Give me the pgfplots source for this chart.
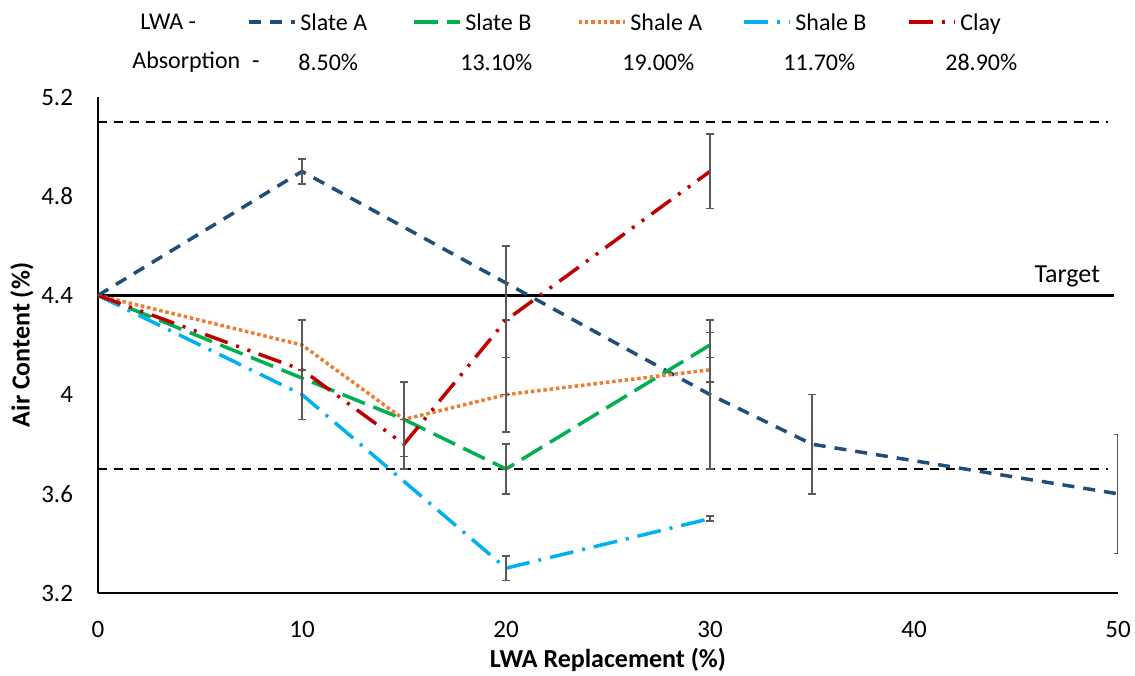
\documentclass[border=0pt]{standalone}
\usepackage{fontspec}
\setmainfont{Carlito}
\usepackage{pgfplots}
\pgfplotsset{compat=1.18}
\definecolor{slateA}{HTML}{1F4E79}
\definecolor{slateB}{HTML}{00B050}
\definecolor{shaleA}{HTML}{ED7D31}
\definecolor{shaleB}{HTML}{00B0F0}
\definecolor{clay}{HTML}{C00000}
\definecolor{errgray}{HTML}{595959}
\pgfplotsset{
  ebar/.style={error bars/.cd, y dir=both, y explicit, error mark=|,
    error bar style={solid, line width=0.75pt, color=errgray},
    error mark options={solid, line width=0.75pt, color=errgray, mark size=1.9pt}},
}
\begin{document}
\begin{tikzpicture}
\useasboundingbox (-49pt,-41pt) rectangle (518.5pt,296.5pt);
\begin{axis}[
  scale only axis, width=510pt, height=248pt,
  xmin=0, xmax=50, ymin=3.2, ymax=5.2,
  clip mode=individual,
  xtick={0,10,20,30,40,50}, ytick={3.2,3.6,4,4.4,4.8,5.2},
  axis x line*=bottom, axis y line*=left,
  axis line style={-, line width=1pt, black},
  major tick length=0pt,
  /pgf/number format/assume math mode=true,
  ticklabel style={font=\fontsize{12.5}{15}\selectfont},
  xticklabel style={yshift=-10.8pt},
  yticklabel style={xshift=-9pt},
  xlabel={LWA Replacement (\%)},
  ylabel={Air Content (\%)},
  xlabel style={at={(axis description cs:0.5,-0.135)}, anchor=center, font=\bfseries\fontsize{13}{15}\selectfont},
  ylabel style={at={(axis description cs:-0.0745,0.5)}, anchor=center, font=\bfseries\fontsize{13}{15}\selectfont},
  legend columns=5,
  legend image code/.code={\draw[line width=1.75pt, #1] (0pt,0pt) -- (23pt,0pt);},
  legend style={draw=none, fill=none, inner sep=0pt, outer sep=0pt,
    at={(axis description cs:0.146,1.151)}, anchor=west,
    /tikz/column sep=0pt, /tikz/every even column/.style={column sep=0pt},
    cells={anchor=west}, nodes={inner sep=0pt, text depth=0pt},
    font=\fontsize{12}{14}\selectfont},
]
% reference lines
\addplot[black, line width=1.25pt, dash pattern=on 4.5pt off 3.5pt, forget plot] coordinates {(0,5.1) (49.5,5.1)};
\addplot[black, line width=1.25pt, forget plot] coordinates {(0,4.4) (49.8,4.4)};
\addplot[black, line width=1.25pt, dash pattern=on 4.5pt off 3.5pt, forget plot] coordinates {(0,3.7) (49.5,3.7)};
% Slate A
\addplot[slateA, line width=1.75pt, dash pattern=on 6pt off 4.5pt, ebar] coordinates {
 (0,4.4) +- (0,0)
 (10,4.9) +- (0,0.05)
 (20,4.45) +- (0,0.15)
 (30,4.0) +- (0,0.3)
 (35,3.8) +- (0,0.2)
 (50,3.6) +- (0,0.24)
};
\addlegendentry{\makebox[57.75pt][l]{\hspace{2pt}Slate A}}
% Slate B
\addplot[slateB, line width=1.75pt, dash pattern=on 12pt off 4.5pt, ebar] coordinates {
 (0,4.4) +- (0,0)
 (15,3.9) +- (0,0)
 (20,3.7) +- (0,0.1)
 (30,4.2) +- (0,0.05)
};
\addlegendentry{\makebox[57.75pt][l]{\hspace{2pt}Slate B}}
% Shale A
\addplot[shaleA, line width=1.75pt, dash pattern=on 1.75pt off 1.4pt, ebar] coordinates {
 (0,4.4) +- (0,0)
 (10,4.2) +- (0,0.1)
 (15,3.9) +- (0,0.15)
 (20,4.0) +- (0,0.15)
 (30,4.1) +- (0,0.05)
};
\addlegendentry{\makebox[57.75pt][l]{\hspace{2pt}Shale A}}
% Shale B
\addplot[shaleB, line width=1.75pt, dash pattern=on 12pt off 4.5pt on 1.5pt off 4.5pt, ebar] coordinates {
 (0,4.4) +- (0,0)
 (10,4.0) +- (0,0.1)
 (20,3.3) +- (0,0.05)
 (30,3.5) +- (0,0.01)
};
\addlegendentry{\makebox[57.75pt][l]{\hspace{2pt}Shale B}}
% Clay
\addplot[clay, line width=1.75pt, dash pattern=on 12pt off 4.5pt on 1.5pt off 4.5pt on 1.5pt off 4.5pt, ebar] coordinates {
 (0,4.4) +- (0,0)
 (10,4.1) +- (0,0)
 (15,3.8) +- (0,0.1)
 (20,4.3) +- (0,0.3)
 (30,4.9) +- (0,0.15)
};
\addlegendentry{\makebox[40pt][l]{\hspace{2pt}Clay}}
% texts
\node[anchor=base east, font=\fontsize{13}{15}\selectfont, xshift=-5.5pt, yshift=6.5pt] at (axis cs:50,4.4) {Target};
\node[anchor=west, inner sep=0pt, font=\fontsize{12}{14}\selectfont] at (axis description cs:0.0412,1.151) {LWA -};
\node[anchor=west, inner sep=0pt, font=\fontsize{12}{14}\selectfont] at (axis description cs:0.0333,1.0706) {Absorption\hspace{6pt}-};
\node[anchor=west, inner sep=0pt, font=\fontsize{12}{14}\selectfont] at (axis description cs:0.1961,1.0706) {8.50\%};
\node[anchor=west, inner sep=0pt, font=\fontsize{12}{14}\selectfont] at (axis description cs:0.3549,1.0706) {13.10\%};
\node[anchor=west, inner sep=0pt, font=\fontsize{12}{14}\selectfont] at (axis description cs:0.5137,1.0706) {19.00\%};
\node[anchor=west, inner sep=0pt, font=\fontsize{12}{14}\selectfont] at (axis description cs:0.6716,1.0706) {11.70\%};
\node[anchor=west, inner sep=0pt, font=\fontsize{12}{14}\selectfont] at (axis description cs:0.8304,1.0706) {28.90\%};
\end{axis}
\end{tikzpicture}
\end{document}
